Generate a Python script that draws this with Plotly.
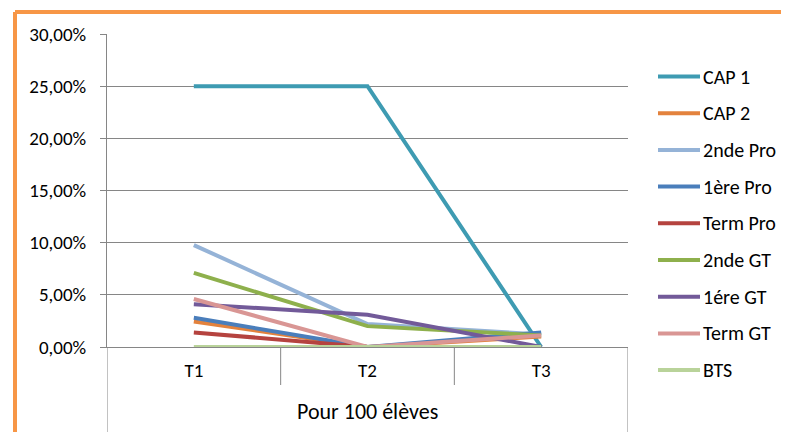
import plotly.graph_objects as go

periods = ["T1", "T2", "T3"]
group_label = "Pour 100 élèves"
series_names = ["CAP 1", "CAP 2", "2nde Pro", "1ère Pro", "Term Pro",
                "2nde GT", "1ére GT", "Term GT", "BTS"]
cap1 = [0.25, 0.25, 0.0]
cap2 = [0.0245, 0.0, 0.010]
seconde_pro = [0.0977, 0.022, 0.012]
premiere_pro = [0.028, 0.0, 0.014]
term_pro = [0.014, 0.0, 0.0]
seconde_gt = [0.071, 0.020, 0.011]
premiere_gt = [0.041, 0.031, 0.0]
term_gt = [0.046, 0.0, 0.011]
bts = [0.0, 0.0, 0.0]
values = [cap1, cap2, seconde_pro, premiere_pro, term_pro,
          seconde_gt, premiere_gt, term_gt, bts]
colors = ["#3E9BB2", "#E3823D", "#95B3D7", "#4A7EBB", "#B5433F",
          "#8EB04C", "#725A99", "#D99694", "#B9D39A"]

y_ticks = [0, 0.05, 0.10, 0.15, 0.20, 0.25, 0.30]

FONT = "Carlito, Lato, Noto Sans, sans-serif"
GRAY = "#868686"
W, H = 781, 424          # page body has an 8px default margin
L, R, T, B = 99, 161, 26, 85
PW, PH = W - L - R, H - T - B


def px_x(px):
    return (px - L) / PW


def px_y(py):
    return (T + PH - py) / PH


fig = go.Figure()
for i, (name, vals, col) in enumerate(zip(series_names, values, colors)):
    fig.add_trace(go.Scatter(
        x=periods, y=vals, name=name, mode="lines",
        line=dict(color=col, width=4),
        showlegend=False,
    ))

fig.update_layout(
    width=W, height=H,
    margin=dict(l=L, r=R, t=T, b=B, autoexpand=False),
    paper_bgcolor="white", plot_bgcolor="white",
    separators=", ",
    font=dict(family=FONT, size=19, color="#000000"),
    showlegend=False,
    xaxis=dict(
        type="category", range=[-0.5, 2.5],
        showgrid=False,
        showline=True, linecolor=GRAY, linewidth=1,
        ticks="", ticklabelstandoff=6,
        tickfont=dict(family=FONT, size=19, color="#000000"),
        zeroline=False,
    ),
    yaxis=dict(
        range=[0, 0.30], tickvals=y_ticks, tickformat=".2%",
        showgrid=True, gridcolor=GRAY, gridwidth=1,
        showline=True, linecolor=GRAY, linewidth=1,
        ticks="outside", ticklen=6, tickcolor=GRAY,
        ticklabelstandoff=10,
        zeroline=False,
        tickfont=dict(family=FONT, size=19, color="#000000"),
    ),
)

# legend (drawn to match the original's long line keys)
for i, (name, col) in enumerate(zip(series_names, colors)):
    yc = px_y(68.5 + 36.7 * i)
    fig.add_shape(type="line", xref="paper", yref="paper",
                  x0=px_x(650), x1=px_x(692), y0=yc, y1=yc,
                  line=dict(color=col, width=4))
    fig.add_annotation(text=name, xref="paper", yref="paper",
                       x=px_x(693), y=yc, xanchor="left", yanchor="middle",
                       showarrow=False,
                       font=dict(family=FONT, size=20, color="#000000"))

# category box below the plot area
for xb, yb in [(-0.5, -B / PH), (0.5, -38 / PH), (1.5, -38 / PH), (2.5, -B / PH)]:
    fig.add_shape(type="line", xref="x", yref="paper",
                  x0=xb, x1=xb, y0=0, y1=yb,
                  line=dict(color=GRAY, width=1))

fig.add_annotation(text=group_label, xref="paper", yref="paper",
                   x=0.5, y=px_y(403), xanchor="center", yanchor="middle",
                   showarrow=False, font=dict(family=FONT, size=22, color="#000000"))

# orange chart border (partially cropped in the reference)
bx = px_x(7)
by = px_y(4)
fig.add_shape(type="line", xref="paper", yref="paper",
              x0=bx, x1=1.6, y0=by, y1=by,
              line=dict(color="#F79646", width=4), layer="above")
fig.add_shape(type="line", xref="paper", yref="paper",
              x0=bx, x1=bx, y0=by, y1=-0.5,
              line=dict(color="#F79646", width=4), layer="above")

fig.write_html("out.html")
